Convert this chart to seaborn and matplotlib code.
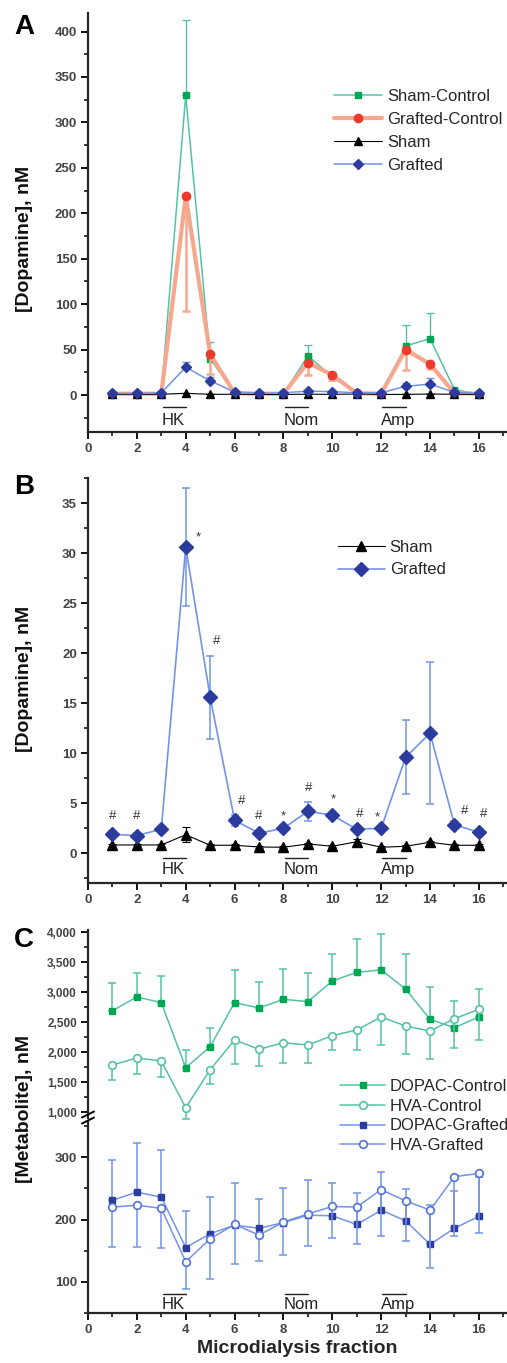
import numpy as np
import pandas as pd
import matplotlib
matplotlib.use("Agg")
import matplotlib.pyplot as plt
import seaborn as sns
from matplotlib.ticker import MultipleLocator, FuncFormatter
from matplotlib.lines import Line2D

# ---------------- data ----------------
fractions = list(range(1, 17))
x_ticks = [0, 2, 4, 6, 8, 10, 12, 14, 16]

# Panel A
sham_ctrl = [1, 1, 1, 330, 40, 2, 1, 1, 43, 20, 2, 1, 54, 62, 6, 1]
sham_ctrl_err = [0.5, 0.5, 0.5, 83, 18, 0.5, 0.5, 0.5, 12, 3, 0.5, 0.5, 23, 28, 2, 0.5]
graft_ctrl = [1.5, 1.5, 1.5, 219, 45, 2, 1.5, 1.5, 35.6, 22, 2, 1.5, 50, 34, 2, 1.5]
graft_ctrl_err = [0.5, 0.5, 0.5, 127, 22, 0.5, 0.5, 0.5, 14, 5, 0.5, 0.5, 22, 5, 0.5, 0.5]

# Panel B (also drawn in A)
sham = [0.83, 0.83, 0.83, 1.85, 0.8, 0.8, 0.63, 0.6, 0.93, 0.7, 1.15, 0.6, 0.7, 1.1, 0.8, 0.8]
sham_err = [0.1, 0.1, 0.1, 0.75, 0.1, 0.1, 0.1, 0.1, 0.1, 0.1, 0.3, 0.1, 0.1, 0.15, 0.1, 0.1]
grafted = [1.9, 1.77, 2.4, 30.6, 15.6, 3.3, 2.0, 2.5, 4.2, 3.8, 2.4, 2.5, 9.6, 12.0, 2.85, 2.1]
grafted_err = [0.3, 0.3, 0.2, 5.9, 4.15, 0.55, 0.2, 0.3, 0.95, 0.25, 0.2, 0.2, 3.67, 7.1, 0.35, 0.2]

sig_labels = ["#", "#", "*", "#", "#", "#", "*", "#", "*", "#", "*", "#", "#"]
sig_x = [1.0, 2.0, 4.5, 5.25, 6.3, 7.0, 8.0, 9.05, 10.05, 11.1, 11.85, 15.4, 16.2]
sig_y = [3.7, 3.7, 31.6, 21.2, 5.2, 3.7, 3.7, 6.5, 5.4, 3.9, 3.55, 4.25, 3.9]

stim_labels = ["HK", "Nom", "Amp"]
stim_start = [3, 8, 12]

# Panel C
dopac_ctrl = [2693, 2922, 2828, 1743, 2093, 2828, 2738, 2883, 2845, 3188, 3333, 3372, 3055, 2550, 2410, 2588]
dopac_ctrl_err = [467, 405, 444, 290, 312, 544, 434, 500, 482, 457, 561, 595, 590, 533, 450, 462]
hva_ctrl = [1788, 1905, 1855, 1077, 1710, 2205, 2050, 2160, 2122, 2277, 2372, 2588, 2438, 2355, 2560, 2717]
hva_ctrl_err = [245, 267, 262, 189, 233, 400, 278, 333, 295, 239, 334, 466, 466, 462, 488, 512]
dopac_graft = [231, 244, 236, 155, 177, 191, 186, 195, 207, 206, 192, 215, 198, 160, 186, 205]
dopac_graft_err = [65, 79, 75, 59, 59, 68, 47, 56, 56, 53, 50, 62, 51, 63, 60, 64]
hva_graft = [220, 223, 218, 132, 169, 192, 175, 196, 209, 221, 220, 248, 230, 215, 269, 274]
hva_graft_err = [64, 67, 63, 44, 64, 64, 41, 53, 51, 50, 59, 75, 64, 93, 96, 95]

# ---------------- style ----------------
sns.set_style("ticks")
plt.rcParams["font.family"] = ["Liberation Sans", "DejaVu Sans"]

W, H = 507, 1363
fig = plt.figure(figsize=(W / 100, H / 100), dpi=100)


def rect(top, bottom, left=88, right=507):
    return [left / W, 1 - bottom / H, (right - left) / W, (bottom - top) / H]


TICK_C = "#444444"

GREEN_LINE = "#55c2a8"
GREEN_MK = "#00a651"
RED_LINE = "#f6a88f"
RED_MK = "#ec3b2c"
BLUE_LINE = "#7393e6"
BLUE_MK = "#2b3c9e"
BLUE_OPEN = "#5272d6"

LEG_FS = 12


def style_axis(ax, show_bottom=True):
    for s in ["top", "right"]:
        ax.spines[s].set_visible(False)
    ax.spines["left"].set_linewidth(1.6)
    ax.spines["bottom"].set_linewidth(1.6)
    if not show_bottom:
        ax.spines["bottom"].set_visible(False)
        ax.tick_params(axis="x", which="both", bottom=False, labelbottom=False)
    ax.tick_params(which="major", direction="out", length=5, width=1.3, color="black",
                   labelsize=9.5, labelcolor=TICK_C, pad=3)
    ax.tick_params(which="minor", direction="out", length=3, width=1.1, color="black")
    for lab in ax.get_xticklabels() + ax.get_yticklabels():
        lab.set_fontweight("bold")
    ax.set_xlabel("")
    ax.set_ylabel("")
    ax.set_facecolor("none")


def set_x(ax):
    ax.set_xlim(0, 17.15)
    ax.set_xticks(x_ticks)
    ax.xaxis.set_minor_locator(MultipleLocator(1))


def series(ax, y, lc, lw, marker, ms, mfc, mec, z, label=None, mew=1.0):
    sns.lineplot(x=fractions, y=y, ax=ax, color=lc, lw=lw, marker=marker, ms=ms,
                 markerfacecolor=mfc, markeredgecolor=mec, markeredgewidth=mew,
                 errorbar=None, zorder=z, label=label, legend=False)


def errs(ax, y, err, color, lw, z, mode="both", cap=2.6):
    err = np.asarray(err, float)
    zeros = np.zeros_like(err)
    if mode == "up":
        yerr = [zeros, err]
    elif mode == "down":
        yerr = [err, zeros]
    else:
        yerr = [err, err]
    ax.errorbar(fractions, y, yerr=yerr, fmt="none", ecolor=color, elinewidth=lw,
                capsize=cap, capthick=lw, zorder=z)


def stim(ax, y_text, y_bar):
    for lab, s in zip(stim_labels, stim_start):
        ax.text(s, y_text, lab, ha="left", va="center", fontsize=12, color="#222222")
        ax.plot([s + 0.05, s + 1.0], [y_bar, y_bar], color="#222222", lw=1.0, clip_on=False)


# ---------------- Panel A ----------------
axA = fig.add_axes(rect(13, 432))
errs(axA, sham_ctrl, sham_ctrl_err, GREEN_LINE, 1.0, 2, "up")
series(axA, sham_ctrl, GREEN_LINE, 1.1, "s", 5, GREEN_MK, GREEN_MK, 3, "Sham-Control")
errs(axA, graft_ctrl, graft_ctrl_err, RED_LINE, 1.8, 4, "down")
series(axA, graft_ctrl, RED_LINE, 3.0, "o", 6, RED_MK, RED_MK, 5, "Grafted-Control")
errs(axA, sham, sham_err, "black", 0.8, 6, "up")
series(axA, sham, "black", 0.8, "^", 5.5, "black", "black", 7, "Sham")
errs(axA, grafted, grafted_err, BLUE_LINE, 1.0, 8, "up")
series(axA, grafted, BLUE_LINE, 1.1, "D", 5.5, BLUE_MK, BLUE_MK, 9, "Grafted")
set_x(axA)
axA.set_ylim(-40.7, 420.4)
axA.set_yticks(np.arange(0, 401, 50))
axA.yaxis.set_minor_locator(MultipleLocator(25))
stim(axA, -28, -13.5)
style_axis(axA)
hA, lA = axA.get_legend_handles_labels()
axA.legend(hA, lA, loc="upper left", bbox_to_anchor=(334 / W, 1 - 89 / H),
           bbox_transform=fig.transFigure, frameon=False, fontsize=LEG_FS,
           handlelength=2.9, handletextpad=0.3, labelspacing=0.48, borderpad=0,
           borderaxespad=0)

# ---------------- Panel B ----------------
axB = fig.add_axes(rect(478, 883))
errs(axB, sham, sham_err, "black", 0.8, 2)
series(axB, sham, "black", 0.8, "^", 6.5, "black", "black", 3, "Sham")
errs(axB, grafted, grafted_err, BLUE_LINE, 1.1, 4)
series(axB, grafted, BLUE_LINE, 1.2, "D", 7, BLUE_MK, BLUE_MK, 5, "Grafted")
for t, xx, yy in zip(sig_labels, sig_x, sig_y):
    axB.text(xx, yy, t, ha="center", va="center", fontsize=9.5, color="#333333")
set_x(axB)
axB.set_ylim(-2.97, 37.5)
axB.set_yticks(np.arange(0, 36, 5))
axB.yaxis.set_minor_locator(MultipleLocator(2.5))
stim(axB, -1.67, -0.5)
style_axis(axB)
hB, lB = axB.get_legend_handles_labels()
axB.legend(hB, lB, loc="upper left", bbox_to_anchor=(338 / W, 1 - 540 / H),
           bbox_transform=fig.transFigure, frameon=False, fontsize=LEG_FS,
           handlelength=2.8, handletextpad=0.3, labelspacing=0.45, borderpad=0,
           borderaxespad=0)

# ---------------- Panel C (broken axis) ----------------
axC1 = fig.add_axes(rect(930, 1118))
axC2 = fig.add_axes(rect(1122, 1313))

errs(axC1, dopac_ctrl, dopac_ctrl_err, GREEN_LINE, 1.1, 2, "up")
series(axC1, dopac_ctrl, GREEN_LINE, 1.1, "s", 5, GREEN_MK, GREEN_MK, 3, "DOPAC-Control")
errs(axC1, hva_ctrl, hva_ctrl_err, GREEN_LINE, 1.1, 4, "down")
series(axC1, hva_ctrl, GREEN_LINE, 1.1, "o", 5.5, "white", GREEN_LINE, 5, "HVA-Control", mew=1.2)
for l in axC1.lines + axC1.collections:
    l.set_clip_on(False)
set_x(axC1)
axC1.set_ylim(905, 4038)
axC1.set_yticks(np.arange(1000, 4001, 500))
axC1.yaxis.set_minor_locator(MultipleLocator(250))
axC1.yaxis.set_major_formatter(FuncFormatter(lambda v, p: f"{int(v):,}"))
style_axis(axC1, show_bottom=False)
axC1.tick_params(axis="y", labelsize=8.5)

errs(axC2, dopac_graft, dopac_graft_err, BLUE_LINE, 1.1, 2, "up")
series(axC2, dopac_graft, BLUE_LINE, 1.1, "s", 5, BLUE_MK, BLUE_MK, 3, "DOPAC-Grafted")
errs(axC2, hva_graft, hva_graft_err, BLUE_LINE, 1.1, 4, "down")
series(axC2, hva_graft, BLUE_LINE, 1.1, "o", 5.5, "white", BLUE_OPEN, 5, "HVA-Grafted", mew=1.2)
set_x(axC2)
axC2.set_ylim(49.7, 356.8)
axC2.set_yticks([100, 200, 300])
axC2.yaxis.set_minor_locator(MultipleLocator(50))
stim(axC2, 64, 81)
style_axis(axC2)
axC2.set_xlabel("Microdialysis fraction", fontsize=14, fontweight="bold", labelpad=3)

# break marks
for yb in [1114.5, 1120.5]:
    fig.add_artist(Line2D([82 / W, 94 / W], [1 - (yb + 3) / H, 1 - (yb - 3) / H],
                          transform=fig.transFigure, color="black", lw=1.4))

hC = axC1.get_legend_handles_labels()
hC2 = axC2.get_legend_handles_labels()
axC2.legend(hC[0] + hC2[0], hC[1] + hC2[1], loc="upper left",
            bbox_to_anchor=(340 / W, 1 - 1079 / H), bbox_transform=fig.transFigure,
            frameon=False, fontsize=LEG_FS, handlelength=2.7, handletextpad=0.3,
            labelspacing=0.28, borderpad=0, borderaxespad=0)

# ---------------- labels ----------------
for txt, yc in [("[Dopamine], nM", 239), ("[Dopamine], nM", 679), ("[Metabolite], nM", 1109)]:
    fig.text(25 / W, 1 - yc / H, txt, rotation=90, ha="center", va="center",
             fontsize=14, fontweight="bold", color="#111111")
for txt, yc in [("A", 27.5), ("B", 487), ("C", 940)]:
    fig.text(24 / W, 1 - yc / H, txt, ha="center", va="center", fontsize=20,
             fontweight="bold", color="black")

fig.savefig("out.png", dpi=100)
